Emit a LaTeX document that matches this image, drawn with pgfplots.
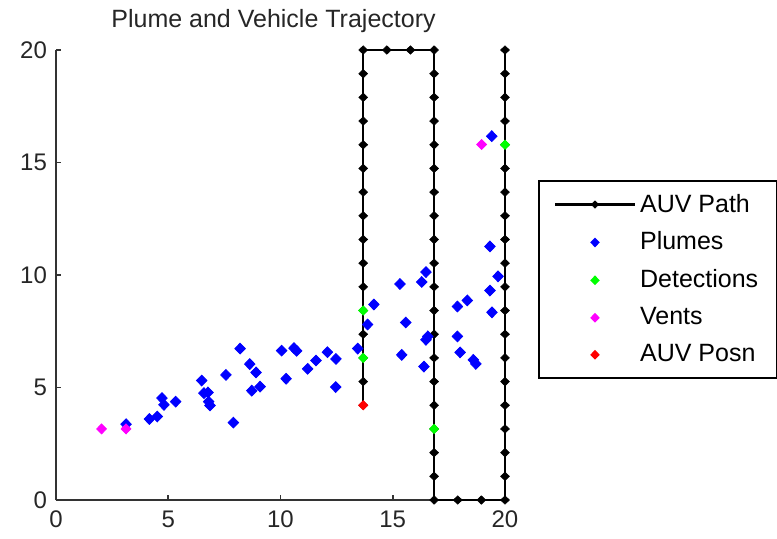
\documentclass[border=0pt]{standalone}
\usepackage{pgfplots}
\pgfplotsset{compat=1.18}
\usepackage{fontspec}
\setmainfont{Liberation Sans}
\definecolor{ventmag}{rgb}{1,0,1}
\definecolor{detgreen}{rgb}{0,1,0}
\definecolor{plumeblue}{rgb}{0,0,1}
\definecolor{posred}{rgb}{1,0,0}

\begin{document}
\begin{tikzpicture}
\path[use as bounding box] (-28pt,-19pt) rectangle (360.5pt,250pt);
\begin{axis}[
  at={(0,0)}, anchor=south west,
  scale only axis,
  width=224.5pt, height=225pt,
  xmin=0, xmax=20, ymin=0, ymax=20,
  xtick={0,5,10,15,20}, ytick={0,5,10,15,20},
  axis x line=bottom, axis y line=left,
  axis line style={-, line width=0.9pt, black!80},
  tick align=inside, major tick length=2.5pt,
  tick style={line width=0.8pt, black!80},
  /pgf/number format/assume math mode=true,
  tick label style={font=\fontsize{12}{14}\selectfont, black!85},
  xticklabel style={yshift=-2pt},
  yticklabel style={xshift=-1pt},
  title={Plume and Vehicle Trajectory},
  title style={font=\fontsize{12.5}{15}\selectfont, black!85, at={(0.5,1)}, anchor=base, yshift=5.5pt, xshift=-3.5pt},
  clip=false,
  legend style={
    at={(1.0735,0.711)}, anchor=north west,
    draw=black, line width=0.9pt,
    font=\fontsize{12.5}{15}\selectfont,
    inner xsep=7.5pt, inner ysep=4.5pt,
    row sep=4.4pt,
    cells={anchor=west},
  },
  legend image code/.code={%
    \draw[mark repeat=2, mark phase=2, mark size=1.8pt, #1] plot coordinates {(0pt,0pt) (20pt,0pt) (40pt,0pt)};},
]
% AUV path
\addplot[black, line width=1.1pt, mark=diamond*, mark size=2.1pt, mark options={xscale=1.4, line width=0.3pt}] coordinates {
(20,20) (20,18.947) (20,17.895) (20,16.842) (20,15.789) (20,14.737) (20,13.684) (20,12.632) (20,11.579) (20,10.526)
(20,9.474) (20,8.421) (20,7.368) (20,6.316) (20,5.263) (20,4.211) (20,3.158) (20,2.105) (20,1.053) (20,0)
(18.947,0) (17.895,0) (16.842,0)
(16.842,1.053) (16.842,2.105) (16.842,3.158) (16.842,4.211) (16.842,5.263) (16.842,6.316) (16.842,7.368) (16.842,8.421)
(16.842,9.474) (16.842,10.526) (16.842,11.579) (16.842,12.632) (16.842,13.684) (16.842,14.737) (16.842,15.789)
(16.842,16.842) (16.842,17.895) (16.842,18.947) (16.842,20)
(15.789,20) (14.737,20) (13.684,20)
(13.684,18.947) (13.684,17.895) (13.684,16.842) (13.684,15.789) (13.684,14.737) (13.684,13.684) (13.684,12.632)
(13.684,11.579) (13.684,10.526) (13.684,9.474) (13.684,8.421) (13.684,7.368) (13.684,6.316) (13.684,5.263) (13.684,4.211)
};
\addlegendentry{AUV Path}
% plumes
\addplot[only marks, mark=diamond*, mark size=2.7pt, color=plumeblue, mark options={xscale=1.3}] coordinates {
(3.12,3.37) (4.16,3.60) (4.51,3.71) (4.72,4.53) (4.81,4.23) (5.33,4.37) (6.49,5.31) (6.59,4.75) (6.77,4.78)
(6.80,4.37) (6.86,4.20) (7.57,5.56) (7.90,3.44) (8.20,6.73) (8.63,6.04) (8.91,5.67) (8.72,4.86) (9.09,5.04)
(10.05,6.64) (10.25,5.39) (10.60,6.75) (10.72,6.63) (11.21,5.83) (11.58,6.20) (12.09,6.57) (12.47,6.27)
(12.46,5.02) (13.44,6.73) (13.88,7.80) (14.16,8.69) (15.32,9.60) (15.58,7.89) (15.40,6.45) (16.29,9.69)
(16.48,10.13) (16.48,7.12) (16.56,7.27) (16.39,5.93) (17.88,8.60) (18.32,8.87) (17.88,7.27) (18.00,6.56)
(18.59,6.23) (18.70,6.05) (19.33,11.27) (19.69,9.94) (19.33,9.31) (19.42,8.34) (19.41,16.17)
};
\addlegendentry{Plumes}
% detections
\addplot[only marks, mark=diamond*, mark size=2.3pt, color=detgreen, mark options={xscale=1.3}] coordinates {
(13.684,8.421) (13.684,6.316) (16.842,3.158) (20,15.789)
};
\addlegendentry{Detections}
% vents
\addplot[only marks, mark=diamond*, mark size=2.5pt, color=ventmag, mark options={xscale=1.3}] coordinates {
(2.03,3.16) (3.12,3.16) (18.96,15.80)
};
\addlegendentry{Vents}
% current AUV position
\addplot[only marks, mark=diamond*, mark size=2.3pt, color=posred, mark options={xscale=1.3}] coordinates {
(13.684,4.211)
};
\addlegendentry{AUV Posn}
\end{axis}
\end{tikzpicture}
\end{document}
